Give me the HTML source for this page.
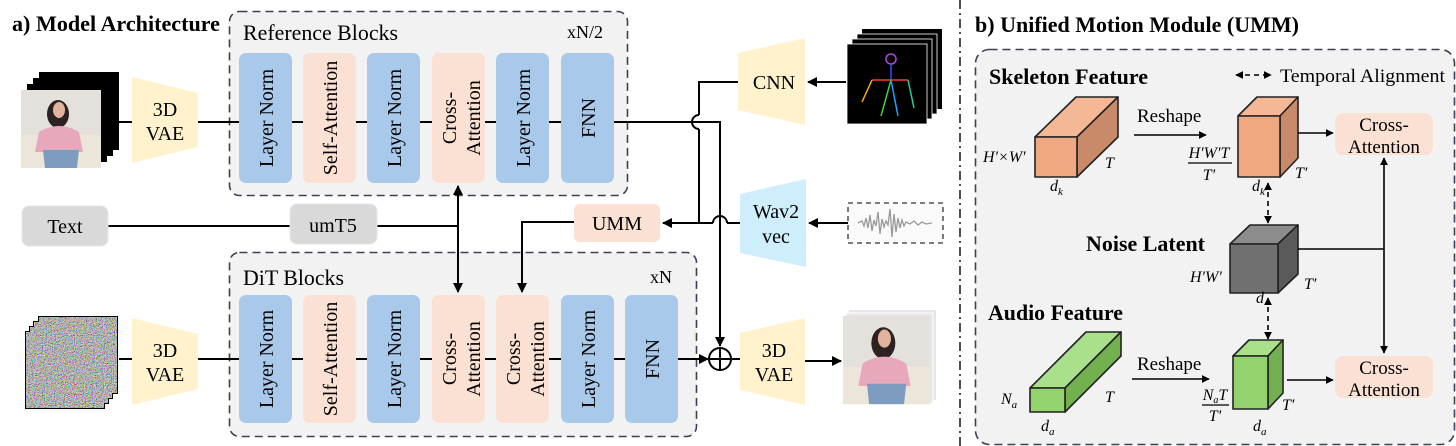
<!DOCTYPE html>
<html><head><meta charset="utf-8"><style>
html,body{margin:0;padding:0;background:#fff}
svg{display:block}
text{font-family:"Liberation Serif",serif;fill:#000}
.b{font-weight:bold}
</style></head><body>
<svg width="1456" height="446" viewBox="0 0 1456 446" xmlns="http://www.w3.org/2000/svg">
<defs>
<marker id="ah" viewBox="0 0 10 10" refX="9" refY="5" markerWidth="5" markerHeight="5" orient="auto-start-reverse"><path d="M0,0 L10,5 L0,10 z" fill="#000"/></marker>
<filter id="noise" x="0" y="0" width="100%" height="100%"><feTurbulence type="fractalNoise" baseFrequency="0.9" numOctaves="2" seed="3"/><feColorMatrix type="matrix" values="1.8 0 0 0 -0.45  0 1.8 0 0 -0.45  0 0 1.8 0 -0.45  0 0 0 0 1"/></filter>
<g id="photo">
<rect x="0" y="0" width="80" height="78" fill="#e4e1dc"/>
<rect x="0" y="45" width="80" height="33" fill="#ece6da"/>
<ellipse cx="37" cy="24" rx="11" ry="14" fill="#2b2221"/>
<ellipse cx="38" cy="20" rx="6" ry="8" fill="#e2b49e"/>
<path d="M18,42 Q38,30 58,42 L62,62 L14,62 z" fill="#e7a8bb"/>
<path d="M22,60 L58,60 L56,78 L24,78 z" fill="#7e9cc0"/>
</g>
</defs>

<!-- ===== a) ===== -->
<text x="12" y="31" font-size="22" class="b" textLength="208" lengthAdjust="spacingAndGlyphs">a) Model Architecture</text>

<!-- panels -->
<rect x="229.5" y="11.5" width="398" height="184" rx="10" fill="#f2f2f2" stroke="#3a4250" stroke-width="1.6" stroke-dasharray="8,5"/>
<text x="243" y="40" font-size="22" textLength="155" lengthAdjust="spacingAndGlyphs">Reference Blocks</text>
<text x="567" y="38" font-size="18">xN/2</text>
<rect x="229.5" y="252.5" width="467" height="184" rx="10" fill="#f2f2f2" stroke="#3a4250" stroke-width="1.6" stroke-dasharray="8,5"/>
<text x="243" y="285" font-size="22" textLength="101" lengthAdjust="spacingAndGlyphs">DiT Blocks</text>
<text x="650" y="283" font-size="18">xN</text>

<!-- main lines -->
<line x1="119" y1="122" x2="239" y2="122" stroke="#000" stroke-width="2"/>
<line x1="119" y1="359" x2="239" y2="359" stroke="#000" stroke-width="2"/>
<line x1="239" y1="122" x2="614" y2="122" stroke="#000" stroke-width="2"/>
<line x1="239" y1="359" x2="678" y2="359" stroke="#000" stroke-width="2"/>

<!-- input stacks -->
<rect x="39" y="72" width="80" height="78" fill="#000"/>
<rect x="33" y="78" width="80" height="78" fill="#000"/>
<rect x="27" y="84" width="80" height="78" fill="#000"/>
<use href="#photo" x="21" y="90"/>
<g>
<rect x="38" y="316" width="80" height="78" fill="#000"/>
<rect x="33" y="321" width="80" height="78" fill="#000"/>
<rect x="29" y="326" width="80" height="78" fill="#000"/>
<rect x="25" y="331" width="80" height="78" fill="#000"/>
<rect x="39" y="317" width="78" height="76" filter="url(#noise)"/>
<rect x="34" y="322" width="78" height="76" filter="url(#noise)"/>
<rect x="30" y="327" width="78" height="76" filter="url(#noise)"/>
<rect x="26" y="332" width="78" height="76" filter="url(#noise)"/>
</g>

<!-- VAEs -->
<polygon points="132,77 198,93 198,147 132,163" fill="#fff2cc"/>
<text x="165" y="116" font-size="20" text-anchor="middle">3D</text>
<text x="165" y="140" font-size="20" text-anchor="middle">VAE</text>
<polygon points="132,318 198,334 198,389 132,405" fill="#fff2cc"/>
<text x="165" y="357" font-size="20" text-anchor="middle">3D</text>
<text x="165" y="381" font-size="20" text-anchor="middle">VAE</text>

<!-- ref blocks -->
<g font-size="20">
<rect x="239" y="53" width="53" height="130" rx="7" fill="#a9c9ea"/>
<rect x="303" y="53" width="53" height="130" rx="7" fill="#fbe1d3"/>
<rect x="367" y="53" width="53" height="130" rx="7" fill="#a9c9ea"/>
<rect x="432" y="53" width="53" height="130" rx="7" fill="#fbe1d3"/>
<rect x="496" y="53" width="53" height="130" rx="7" fill="#a9c9ea"/>
<rect x="561" y="53" width="53" height="130" rx="7" fill="#a9c9ea"/>
<text transform="translate(273,118) rotate(-90)" text-anchor="middle">Layer Norm</text>
<text transform="translate(337,118) rotate(-90)" text-anchor="middle">Self-Attention</text>
<text transform="translate(401,118) rotate(-90)" text-anchor="middle">Layer Norm</text>
<text transform="translate(456,118) rotate(-90)" text-anchor="middle">Cross-</text>
<text transform="translate(480,118) rotate(-90)" text-anchor="middle">Attention</text>
<text transform="translate(530,118) rotate(-90)" text-anchor="middle">Layer Norm</text>
<text transform="translate(595,118) rotate(-90)" text-anchor="middle">FNN</text>
</g>
<!-- dit blocks -->
<g font-size="20">
<rect x="239" y="295" width="53" height="128" rx="7" fill="#a9c9ea"/>
<rect x="303" y="295" width="53" height="128" rx="7" fill="#fbe1d3"/>
<rect x="367" y="295" width="53" height="128" rx="7" fill="#a9c9ea"/>
<rect x="432" y="295" width="53" height="128" rx="7" fill="#fbe1d3"/>
<rect x="496" y="295" width="53" height="128" rx="7" fill="#fbe1d3"/>
<rect x="561" y="295" width="53" height="128" rx="7" fill="#a9c9ea"/>
<rect x="625" y="295" width="53" height="128" rx="7" fill="#a9c9ea"/>
<text transform="translate(273,359) rotate(-90)" text-anchor="middle">Layer Norm</text>
<text transform="translate(337,359) rotate(-90)" text-anchor="middle">Self-Attention</text>
<text transform="translate(401,359) rotate(-90)" text-anchor="middle">Layer Norm</text>
<text transform="translate(456,359) rotate(-90)" text-anchor="middle">Cross-</text>
<text transform="translate(480,359) rotate(-90)" text-anchor="middle">Attention</text>
<text transform="translate(520,359) rotate(-90)" text-anchor="middle">Cross-</text>
<text transform="translate(544,359) rotate(-90)" text-anchor="middle">Attention</text>
<text transform="translate(595,359) rotate(-90)" text-anchor="middle">Layer Norm</text>
<text transform="translate(659,359) rotate(-90)" text-anchor="middle">FNN</text>
</g>

<!-- text / umT5 -->
<line x1="108" y1="226" x2="458" y2="226" stroke="#000" stroke-width="2"/>
<rect x="22" y="206" width="86" height="40" rx="7" fill="#d9d9d9" stroke="#e6e6e6"/>
<text x="65" y="233" font-size="20" text-anchor="middle">Text</text>
<rect x="290" y="204" width="87" height="40" rx="7" fill="#d9d9d9" stroke="#e6e6e6"/>
<text x="333" y="232" font-size="20" text-anchor="middle">umT5</text>
<line x1="458" y1="186" x2="458" y2="292" stroke="#000" stroke-width="2" marker-start="url(#ah)" marker-end="url(#ah)"/>

<!-- UMM -->
<rect x="574" y="204" width="86" height="38" rx="6" fill="#fbe1d3"/>
<text x="617" y="230" font-size="20" text-anchor="middle">UMM</text>
<polyline points="574,222 522,222 522,292" fill="none" stroke="#000" stroke-width="2" marker-end="url(#ah)"/>
<!-- right connections -->
<line x1="740" y1="223" x2="727" y2="223" stroke="#000" stroke-width="2"/>
<path d="M713,223 A7,7 0 0 1 727,223" fill="none" stroke="#000" stroke-width="2"/>
<line x1="713" y1="223" x2="663" y2="223" stroke="#000" stroke-width="2" marker-end="url(#ah)"/>
<polyline points="740,82 699,82 699,115" fill="none" stroke="#000" stroke-width="2"/>
<path d="M699,115 A7,7 0 0 0 699,129" fill="none" stroke="#000" stroke-width="2"/>
<line x1="699" y1="129" x2="699" y2="223" stroke="#000" stroke-width="2"/>
<polyline points="614,122 720,122 720,346" fill="none" stroke="#000" stroke-width="2" marker-end="url(#ah)"/>
<line x1="678" y1="359" x2="708" y2="359" stroke="#000" stroke-width="2" marker-end="url(#ah)"/>
<circle cx="720" cy="359" r="11" fill="#fff" stroke="#000" stroke-width="2"/>
<line x1="709" y1="359" x2="731" y2="359" stroke="#000" stroke-width="2"/>
<line x1="720" y1="348" x2="720" y2="370" stroke="#000" stroke-width="2"/>
<line x1="731" y1="359" x2="740" y2="359" stroke="#000" stroke-width="2"/>

<!-- CNN / Wav2vec / out VAE -->
<polygon points="738,53 805,38 805,125 738,110" fill="#fff2cc"/>
<text x="774" y="89" font-size="20" text-anchor="middle">CNN</text>
<polygon points="740,194 806,179 806,267 740,253" fill="#cdeefa"/>
<text x="776" y="218" font-size="20" text-anchor="middle">Wav2</text>
<text x="776" y="243" font-size="20" text-anchor="middle">vec</text>
<polygon points="740,333 805,318 805,405 740,390" fill="#fff2cc"/>
<text x="774" y="357" font-size="20" text-anchor="middle">3D</text>
<text x="774" y="381" font-size="20" text-anchor="middle">VAE</text>
<line x1="805" y1="361" x2="841" y2="361" stroke="#000" stroke-width="2" marker-end="url(#ah)"/>
<line x1="846" y1="82" x2="808" y2="82" stroke="#000" stroke-width="2" marker-end="url(#ah)"/>
<line x1="848" y1="223" x2="809" y2="223" stroke="#000" stroke-width="2" marker-end="url(#ah)"/>

<!-- skeleton stack -->
<rect x="862" y="29" width="80" height="80" fill="#000"/>
<rect x="857" y="34" width="80" height="80" fill="#000" stroke="#fff" stroke-width="0.8"/>
<rect x="852" y="39" width="80" height="80" fill="#000" stroke="#fff" stroke-width="0.8"/>
<rect x="847" y="44" width="80" height="80" fill="#000" stroke="#fff" stroke-width="0.8"/>
<g stroke-width="1.5" fill="none">
<circle cx="891" cy="59" r="5" stroke="#b04ad8"/>
<line x1="891" y1="64" x2="891" y2="80" stroke="#3050ff"/>
<line x1="872" y1="80" x2="908" y2="80" stroke="#ff3a1a"/>
<line x1="872" y1="80" x2="862" y2="102" stroke="#ffb000"/>
<line x1="908" y1="80" x2="914" y2="108" stroke="#20d0a0"/>
<line x1="891" y1="80" x2="881" y2="116" stroke="#40d040"/>
<line x1="891" y1="80" x2="898" y2="116" stroke="#20a0ff"/>
</g>
<!-- waveform -->
<rect x="848" y="203" width="95" height="40" fill="#fafafa" stroke="#333" stroke-width="1.3" stroke-dasharray="5,4"/>
<path d="M858,223 L862,221 864,226 866,218 868,228 870,215 872,231 874,220 876,226 878,212 880,234 882,219 884,227 886,221 888,225 890,209 892,237 894,214 896,232 898,218 900,228 902,220 904,226 906,222 910,224 914,221 918,225 922,222 926,224 932,223" fill="none" stroke="#9a9a9a" stroke-width="1.3"/>
<!-- output image -->
<rect x="849" y="310" width="87" height="90" fill="#e7e7e7"/>
<rect x="846" y="313" width="87" height="90" fill="#e7e7e7" stroke="#fff"/>
<use href="#photo" transform="translate(843,316) scale(1.09,1.13)"/>

<!-- divider -->
<line x1="960" y1="0" x2="960" y2="446" stroke="#222" stroke-width="1.6" stroke-dasharray="9,4,2,4"/>

<!-- ===== b) ===== -->
<text x="975" y="32" font-size="22" class="b" textLength="324" lengthAdjust="spacingAndGlyphs">b) Unified Motion Module (UMM)</text>
<rect x="975.5" y="49.5" width="479" height="395" rx="14" fill="#f2f2f2" stroke="#3a4250" stroke-width="1.6" stroke-dasharray="8,5"/>
<text x="989" y="84" font-size="22" class="b" textLength="159" lengthAdjust="spacingAndGlyphs">Skeleton Feature</text>
<line x1="1236" y1="75" x2="1271" y2="75" stroke="#000" stroke-width="1.6" stroke-dasharray="5,4" marker-start="url(#ah)" marker-end="url(#ah)"/>
<text x="1280" y="82" font-size="19" textLength="165" lengthAdjust="spacingAndGlyphs">Temporal Alignment</text>

<!-- skeleton cube -->
<g stroke="#222" stroke-width="1.6" stroke-linejoin="round">
<polygon points="1035,137 1076,97 1118,97 1077,137" fill="#f5b894"/>
<polygon points="1077,137 1118,97 1118,137 1077,177" fill="#c98a6a"/>
<rect x="1035" y="137" width="42" height="40" fill="#f0a882"/>
</g>
<g font-size="16" font-style="italic">
<text x="983" y="162">H′×W′</text>
<text x="1105" y="168">T</text>
<text x="1050" y="191">d<tspan font-size="11" dy="4">k</tspan></text>
</g>
<text x="1137" y="122" font-size="19">Reshape</text>
<line x1="1134" y1="135" x2="1206" y2="135" stroke="#000" stroke-width="1.6" marker-end="url(#ah)"/>
<g font-size="16" font-style="italic" text-anchor="middle">
<text x="1209" y="158">H′W′T</text>
<line x1="1188" y1="163" x2="1232" y2="163" stroke="#000" stroke-width="1.2"/>
<text x="1209" y="180">T′</text>
</g>
<g stroke="#222" stroke-width="1.6" stroke-linejoin="round">
<polygon points="1238,116 1257,97 1298,97 1280,116" fill="#f5b894"/>
<polygon points="1280,116 1298,97 1298,158 1280,177" fill="#c98a6a"/>
<rect x="1238" y="116" width="42" height="61" fill="#f0a882"/>
</g>
<g font-size="16" font-style="italic">
<text x="1295" y="178">T′</text>
<text x="1252" y="191">d<tspan font-size="11" dy="4">k</tspan></text>
</g>
<line x1="1298" y1="133" x2="1333" y2="133" stroke="#000" stroke-width="1.6" marker-end="url(#ah)"/>
<rect x="1335" y="113" width="98" height="42" rx="8" fill="#fbe1d3"/>
<text x="1384" y="131" font-size="19" text-anchor="middle">Cross-</text>
<text x="1384" y="153" font-size="19" text-anchor="middle">Attention</text>

<!-- noise -->
<text x="1086" y="251" font-size="22" class="b" textLength="119" lengthAdjust="spacingAndGlyphs">Noise Latent</text>
<line x1="1268" y1="183" x2="1268" y2="223" stroke="#000" stroke-width="1.6" stroke-dasharray="5,4" marker-start="url(#ah)" marker-end="url(#ah)"/>
<g stroke="#222" stroke-width="1.6" stroke-linejoin="round">
<polygon points="1230,244 1250,225 1298,225 1278,244" fill="#8c8c8c"/>
<polygon points="1278,244 1298,225 1298,274 1278,293" fill="#5a5a5a"/>
<rect x="1230" y="244" width="48" height="49" fill="#707070"/>
</g>
<g font-size="16" font-style="italic">
<text x="1190" y="282">H′W′</text>
<text x="1304" y="289">T′</text>
<text x="1256" y="303">d</text>
</g>
<line x1="1298" y1="249" x2="1384" y2="249" stroke="#000" stroke-width="1.6"/>
<line x1="1384" y1="158" x2="1384" y2="353" stroke="#000" stroke-width="1.6" marker-start="url(#ah)" marker-end="url(#ah)"/>
<line x1="1268" y1="298" x2="1268" y2="339" stroke="#000" stroke-width="1.6" stroke-dasharray="5,4" marker-start="url(#ah)" marker-end="url(#ah)"/>

<!-- audio -->
<text x="988" y="320" font-size="22" class="b" textLength="135" lengthAdjust="spacingAndGlyphs">Audio Feature</text>
<g stroke="#222" stroke-width="1.6" stroke-linejoin="round">
<polygon points="1030,388 1086,332 1121,332 1065,388" fill="#a9e08a"/>
<polygon points="1065,388 1121,332 1121,356 1065,412" fill="#72b050"/>
<rect x="1030" y="388" width="35" height="24" fill="#92d36e"/>
</g>
<g font-size="16" font-style="italic">
<text x="1001" y="404">N<tspan font-size="11" dy="4">a</tspan></text>
<text x="1105" y="402">T</text>
<text x="1041" y="431">d<tspan font-size="11" dy="4">a</tspan></text>
</g>
<text x="1137" y="370" font-size="19">Reshape</text>
<line x1="1132" y1="379" x2="1209" y2="379" stroke="#000" stroke-width="1.6" marker-end="url(#ah)"/>
<g font-size="16" font-style="italic" text-anchor="middle">
<text x="1215" y="400">N<tspan font-size="10" dy="3">a</tspan><tspan dy="-3">T</tspan></text>
<line x1="1202" y1="405" x2="1229" y2="405" stroke="#000" stroke-width="1.2"/>
<text x="1215" y="421">T′</text>
</g>
<g stroke="#222" stroke-width="1.6" stroke-linejoin="round">
<polygon points="1233,356 1249,340 1283,340 1268,356" fill="#a9e08a"/>
<polygon points="1268,356 1283,340 1283,393 1268,409" fill="#72b050"/>
<rect x="1233" y="356" width="35" height="53" fill="#92d36e"/>
</g>
<g font-size="16" font-style="italic">
<text x="1282" y="410">T′</text>
<text x="1253" y="431">d<tspan font-size="11" dy="4">a</tspan></text>
</g>
<line x1="1287" y1="380" x2="1333" y2="380" stroke="#000" stroke-width="1.6" marker-end="url(#ah)"/>
<rect x="1335" y="356" width="98" height="42" rx="8" fill="#fbe1d3"/>
<text x="1384" y="374" font-size="19" text-anchor="middle">Cross-</text>
<text x="1384" y="396" font-size="19" text-anchor="middle">Attention</text>
</svg>
</body></html>
